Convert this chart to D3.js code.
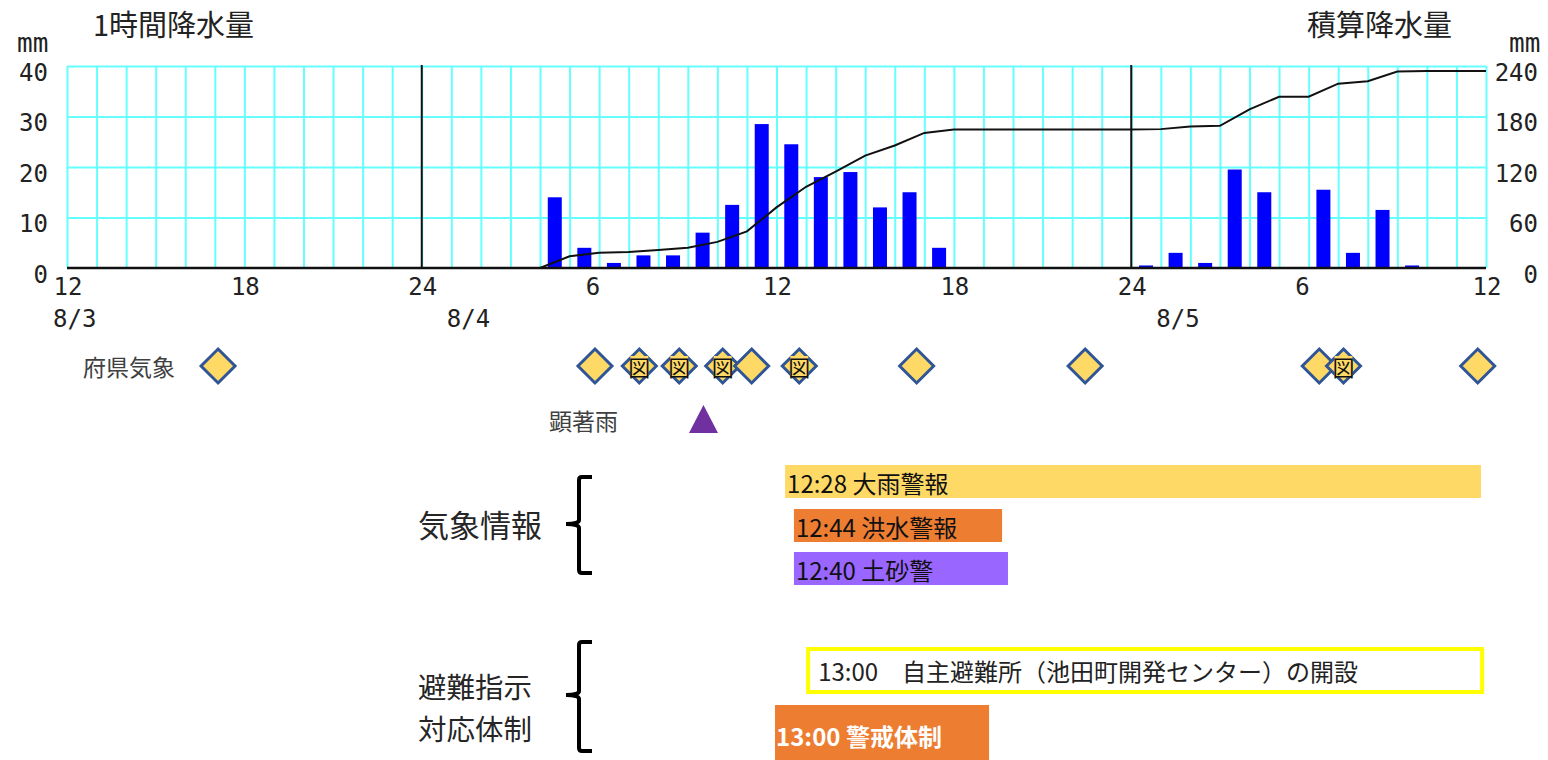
<!DOCTYPE html>
<html><head><meta charset="utf-8">
<script src="https://cdn.jsdelivr.net/npm/d3@7"></script>
<style>body{margin:0;background:#fff}svg{display:block}</style>
</head><body><svg id="c" width="1548" height="760"></svg>
<script>
// ---- data (hours are counted from 8/3 12:00) ----
const hourlyRain = [
  0,0,0,0,0,0,0,0,0,0,0,0,            // 8/3 12-24
  0,0,0,0,14,4,1,2.5,2.5,7,12.5,28.5, // 8/4 0-12
  24.5,18,19,12,15,4,0,0,0,0,0,0,     // 8/4 12-24
  0.5,3,1,19.5,15,0,15.5,3,11.5,0.5,0,0 // 8/5 0-12
];
const xTickHours = [0,6,12,18,24,30,36,42,48];
const xTickLabels = ["12","18","24","6","12","18","24","6","12"];
const dateHours = [0,12,36];
const dateLabels = ["8/3","8/4","8/5"];
const dayLineHours = [12,36];
const rainTicks = [0,10,20,30,40];
const cumTicks = [0,60,120,180,240];
const prefInfoHours = [5.11,17.86,19.36,20.71,22.18,23.16,24.77,28.74,34.44,42.36,43.18,47.72];
const prefInfoMap   = [false,false,true,true,true,false,true,false,false,false,true,false];
const heavyRainHours = [21.53];
const warnLabels = ["12:28 大雨警報","12:44 洪水警報","12:40 土砂警"];
const warnStart = [24.29,24.59,24.59];
const warnEnd   = [47.83,31.63,31.83];
const evacLabels = ["13:00\u3000自主避難所（池田町開発センター）の開設","13:00 警戒体制"];
const evacStart = [25.07,23.95];
const evacEnd   = [47.87,31.19];

// ---- setup ----
const svg = d3.select("#c");
const L = 67, R = 1486, T = 66, B = 268;
const x = d3.scaleLinear().domain([0,48]).range([L,R]);
const yL = d3.scaleLinear().domain([0,40]).range([B,T]);
const yR = d3.scaleLinear().domain([0,240]).range([B,T]);
const mono = "'DejaVu Sans Mono', monospace";
const cjk = "'Noto Sans CJK JP', sans-serif";
const cyan = "#66ffff";

// titles
svg.append("text").attr("x",93).attr("y",36).attr("font-family",cjk).attr("font-size",29).attr("fill","#222").text("1時間降水量");
svg.append("text").attr("x",1307).attr("y",36).attr("font-family",cjk).attr("font-size",29).attr("fill","#222").text("積算降水量");
svg.append("text").attr("x",17).attr("y",52).attr("font-family",mono).attr("font-size",26).attr("fill","#222").text("mm");
svg.append("text").attr("x",1509).attr("y",52).attr("font-family",mono).attr("font-size",26).attr("fill","#222").text("mm");

// vertical grid
const gx = svg.append("g").attr("transform",`translate(0,${B})`)
  .call(d3.axisBottom(x).tickValues(d3.range(0,49)).tickSize(-(B-T)).tickFormat(""));
gx.select(".domain").remove();
gx.selectAll("line").attr("stroke",cyan).attr("stroke-width",2);
// horizontal grid
const gy = svg.append("g").attr("transform",`translate(${L},0)`)
  .call(d3.axisLeft(yL).tickValues(rainTicks.slice(1)).tickSize(-(R-L)).tickFormat(""));
gy.select(".domain").remove();
gy.selectAll("line").attr("stroke",cyan).attr("stroke-width",2);

// bars
const bw = 14;
svg.append("g").selectAll("rect").data(hourlyRain.map((v,i)=>({v,i})).filter(d=>d.v>0)).join("rect")
  .attr("x",d=>x(d.i+0.5)-bw/2).attr("width",bw)
  .attr("y",d=>yL(d.v)).attr("height",d=>B-yL(d.v)).attr("fill","#0000ff");

// day separators
svg.append("g").selectAll("line").data(dayLineHours).join("line")
  .attr("x1",d=>x(d)).attr("x2",d=>x(d)).attr("y1",T-1).attr("y2",B)
  .attr("stroke","#111").attr("stroke-width",2);
// baseline
svg.append("line").attr("x1",L).attr("x2",R).attr("y1",B).attr("y2",B).attr("stroke","#111").attr("stroke-width",2.5);

// cumulative line
const cum = d3.cumsum(hourlyRain);
const pts = [[0,0]].concat(Array.from(cum,(c,i)=>[i+1,c]));
svg.append("path").datum(pts).attr("fill","none").attr("stroke","#111").attr("stroke-width",2)
  .attr("d",d3.line().x(d=>x(d[0])).y(d=>yR(d[1])));

// axis labels
const al = svg.append("g").attr("transform",`translate(${L},0)`)
  .call(d3.axisLeft(yL).tickValues(rainTicks).tickSize(0).tickPadding(19));
al.select(".domain").remove();
al.selectAll("text").attr("font-family",mono).attr("font-size",24).attr("fill","#222").attr("dy","0.6em");
const ar = svg.append("g").attr("transform",`translate(${R},0)`)
  .call(d3.axisRight(yR).tickValues(cumTicks).tickSize(0));
ar.select(".domain").remove();
ar.selectAll("text").attr("font-family",mono).attr("font-size",24).attr("fill","#222")
  .attr("text-anchor","end").attr("x",52).attr("dy","0.6em");
const ab = svg.append("g").attr("transform",`translate(0,${B})`)
  .call(d3.axisBottom(x).tickValues(xTickHours).tickSize(0).tickFormat((d,i)=>xTickLabels[i]));
ab.select(".domain").remove();
ab.selectAll("text").attr("font-family",mono).attr("font-size",24).attr("fill","#222")
  .attr("text-anchor","start").attr("x",-14).attr("y",27).attr("dy",0);
svg.append("g").selectAll("text").data(dateHours).join("text")
  .attr("x",(d,i)=>x(d)+(i===0?-14:25)).attr("y",327)
  .attr("font-family",mono).attr("font-size",24).attr("fill","#222").text((d,i)=>dateLabels[i]);

// prefectural weather info row
const rowY = 366;
svg.append("text").attr("x",83).attr("y",rowY).attr("dominant-baseline","central")
  .attr("font-family",cjk).attr("font-size",23).attr("fill","#404040").text("府県気象");
const dg = svg.append("g").selectAll("g").data(prefInfoHours.map((h,i)=>({h,m:prefInfoMap[i]}))).join("g")
  .attr("transform",d=>`translate(${x(d.h)},${rowY})`);
dg.append("path").attr("d","M0,-17 L17,0 L0,17 L-17,0 Z")
  .attr("fill","#FFD966").attr("stroke","#2F5597").attr("stroke-width",3);
const mg = dg.filter(d=>d.m);
mg.append("rect").attr("x",-9).attr("y",-10).attr("width",18).attr("height",20).attr("fill","#FFD966");
mg.append("text").attr("text-anchor","middle").attr("dominant-baseline","central").attr("y",0)
  .attr("font-family",cjk).attr("font-size",22).attr("fill","#111").text("図");

// significant heavy rain
svg.append("text").attr("x",549).attr("y",420).attr("dominant-baseline","central")
  .attr("font-family",cjk).attr("font-size",23).attr("fill","#404040").text("顕著雨");
svg.append("g").selectAll("path").data(heavyRainHours).join("path")
  .attr("transform",d=>`translate(${x(d)},419)`)
  .attr("d","M0,-14 L14.5,14 L-14.5,14 Z").attr("fill","#7030A0");

// group labels and braces
svg.append("text").attr("x",418).attr("y",537).attr("font-family",cjk)
  .attr("font-size",31).attr("fill","#262626").text("気象情報");
svg.append("text").attr("x",418).attr("y",698).attr("font-family",cjk)
  .attr("font-size",28.5).attr("fill","#262626").text("避難指示");
svg.append("text").attr("x",418).attr("y",740).attr("font-family",cjk)
  .attr("font-size",28.5).attr("fill","#262626").text("対応体制");
function brace(top,mid,bot){
  const xl=579, xr=592, xt=566;
  svg.append("path").attr("fill","none").attr("stroke","#000").attr("stroke-width",4)
    .attr("d",`M${xr},${top} L${xl+3},${top} Q${xl},${top} ${xl},${top+3} L${xl},${mid-4} Q${xl},${mid} ${xt},${mid} Q${xl},${mid} ${xl},${mid+4} L${xl},${bot-3} Q${xl},${bot} ${xl+3},${bot} L${xr},${bot}`);
}
brace(477,524,573);
brace(642,695,751);

// warnings
const warnFill = ["#FFD966","#ED7D31","#9966FF"];
const warnTop = [465,509,552], warnH = 33;
const wg = svg.append("g").selectAll("g").data(warnLabels).join("g");
wg.append("rect").attr("x",(d,i)=>x(warnStart[i])).attr("width",(d,i)=>x(warnEnd[i])-x(warnStart[i]))
  .attr("y",(d,i)=>warnTop[i]).attr("height",warnH).attr("fill",(d,i)=>warnFill[i]);
wg.append("text").attr("x",(d,i)=>x(warnStart[i])+2).attr("y",(d,i)=>warnTop[i]+warnH/2+1)
  .attr("dominant-baseline","central").attr("font-family",cjk).attr("font-size",24).attr("fill","#111").text(d=>d);

// evacuation / response
svg.append("rect").attr("x",x(evacStart[0])).attr("y",649).attr("width",x(evacEnd[0])-x(evacStart[0])).attr("height",43)
  .attr("fill","#fff").attr("stroke","#FFFF00").attr("stroke-width",4);
svg.append("text").attr("x",x(evacStart[0])+10).attr("y",670).attr("dominant-baseline","central")
  .attr("font-family",cjk).attr("font-size",24).attr("fill","#222").text(evacLabels[0]);
svg.append("rect").attr("x",x(evacStart[1])).attr("y",705).attr("width",x(evacEnd[1])-x(evacStart[1])).attr("height",55)
  .attr("fill","#ED7D31");
svg.append("text").attr("x",x(evacStart[1])+1).attr("y",735).attr("dominant-baseline","central")
  .attr("font-family",cjk).attr("font-size",24).attr("font-weight","bold").attr("fill","#fff").text(evacLabels[1]);
</script></body></html>
